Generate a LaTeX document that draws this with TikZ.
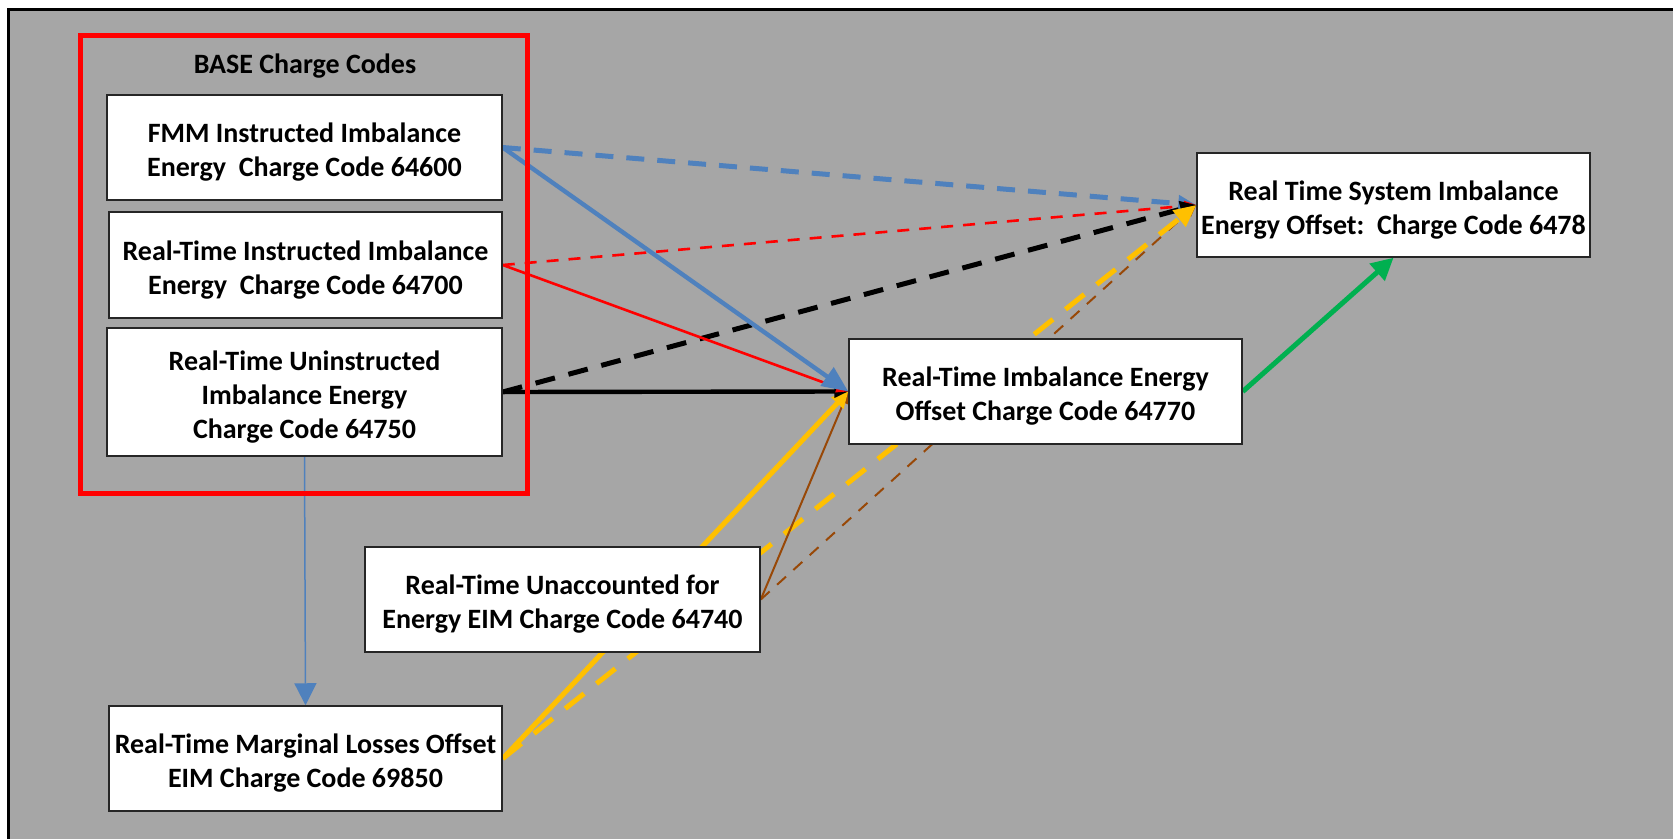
\documentclass[tikz,border=0pt]{standalone}
\usepackage{fontspec}
\setmainfont{Carlito}
\usetikzlibrary{arrows.meta}
\pgfdeclarelayer{bgl}
\pgfdeclarelayer{edgel}
\pgfsetlayers{bgl,edgel,main}
\definecolor{bgray}{HTML}{A6A6A6}
\definecolor{cblue}{HTML}{4F81BD}
\definecolor{cgold}{HTML}{FFC000}
\definecolor{cbrown}{HTML}{984807}
\definecolor{cgreen}{HTML}{00B050}
\begin{document}
\begin{tikzpicture}[x=0.5pt,y=-0.5pt,
  txt/.style={font=\fontsize{14}{17}\selectfont\bfseries},
  box/.style={draw=black!85,line width=0.75pt,fill=white,inner sep=0pt,
    label={[txt,align=center,yshift=-2.3pt]center:#1}},
  bluedash/.style={cblue,line width=2.5pt,dash pattern=on 9pt off 6.5pt,-{Triangle[length=9pt,width=8pt]}},
  bluesolid/.style={cblue,line width=2.2pt,-{Triangle[length=13pt,width=11pt]}},
  reddash/.style={red,line width=1.3pt,dash pattern=on 6pt off 5pt,-{Triangle[length=6pt,width=5pt]}},
  redsolid/.style={red,line width=1.3pt,-{Triangle[length=6pt,width=5pt]}},
  blackdash/.style={black,line width=2.5pt,dash pattern=on 10pt off 7pt,-{Triangle[length=8pt,width=8pt]}},
  blacksolid/.style={black,line width=2.2pt,-{Triangle[length=7pt,width=6pt]}},
  browndash/.style={cbrown,line width=1pt,dash pattern=on 6pt off 5pt,-{Triangle[length=6pt,width=5pt]}},
  brownsolid/.style={cbrown,line width=1pt,-{Triangle[length=6pt,width=5pt]}},
  golddash/.style={cgold,line width=2.5pt,dash pattern=on 12pt off 8pt,-{Triangle[length=11pt,width=10pt]}},
  goldsolid/.style={cgold,line width=2.5pt,-{Triangle[length=8pt,width=8pt]}},
  greenarrow/.style={cgreen,line width=2.5pt,-{Triangle[length=11pt,width=11pt]}},
  thinblue/.style={cblue,line width=0.75pt,-{Triangle[length=11pt,width=11pt]}}
]
\useasboundingbox (0,0) rectangle (1673,839);
\begin{pgfonlayer}{bgl}
  \fill[bgray] (8,10) rectangle (1673,839);
  \draw[line width=1.5pt] (8,839) -- (8,10) -- (1673,10);
\end{pgfonlayer}

% nodes
\node[box={FMM Instructed Imbalance\\Energy\ \ Charge Code 64600},minimum width=197.5pt,minimum height=52.5pt] (fmm) at (304.5,147.5) {};
\node[box={Real-Time Instructed Imbalance\\Energy\ \ Charge Code 64700},minimum width=196.5pt,minimum height=53pt] (rti) at (305.5,265) {};
\node[box={Real-Time Uninstructed\\Imbalance Energy\\Charge Code 64750},minimum width=197.5pt,minimum height=64pt] (rtu) at (304.5,392) {};
\node[box={Real-Time Marginal Losses Offset\\EIM Charge Code 69850},minimum width=196.5pt,minimum height=52.5pt] (mlo) at (305.5,758.5) {};
\node[box={Real-Time Unaccounted for\\Energy EIM Charge Code 64740},minimum width=197.5pt,minimum height=52.5pt] (ufe) at (562.5,599.5) {};
\node[box={Real-Time Imbalance Energy\\Offset Charge Code 64770},minimum width=196.5pt,minimum height=52.5pt] (rieo) at (1045.5,391.5) {};
\node[box={Real Time System Imbalance\\Energy Offset:\ \ Charge Code 6478},minimum width=196.5pt,minimum height=52pt] (sio) at (1393.5,205) {};

% base group
\draw[red,line width=2.5pt] (80,36) rectangle (527,493);
\node[txt] (title) at (305,66) {BASE Charge Codes};

% connectors
\begin{pgfonlayer}{edgel}
  \draw[browndash] (ufe.east) -- (sio.west);
  \draw[bluedash] (fmm.east) -- (sio.west);
  \draw[reddash] (rti.east) -- (sio.west);
  \draw[blackdash] (rtu.east) -- (sio.west);
  \draw[golddash] (mlo.east) -- (sio.west);
  \draw[brownsolid] (ufe.east) -- (rieo.west);
  \draw[goldsolid] (mlo.east) -- (rieo.west);
  \draw[blacksolid] (rtu.east) -- (rieo.west);
  \draw[redsolid] (rti.east) -- (rieo.west);
  \draw[bluesolid] (fmm.east) -- (rieo.west);
  \draw[greenarrow] (rieo.east) -- (sio.south);
  \draw[thinblue] (rtu.south) -- (mlo.north);
\end{pgfonlayer}
\end{tikzpicture}
\end{document}
